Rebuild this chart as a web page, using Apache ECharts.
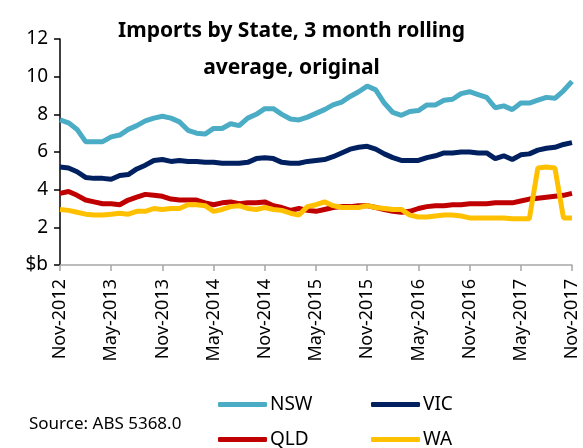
<!DOCTYPE html>
<html>
<head>
<meta charset="utf-8" />
<title>Imports by State</title>
<script type="text/javascript" src="https://cdn.jsdelivr.net/npm/echarts@6/dist/echarts.min.js"></script>
<style>
	* { margin: 0; padding: 0; }
	html, body { width: 583px; height: 448px; background: #fff; overflow: hidden; }
	#main { width: 583px; height: 448px; }
</style>
</head>
<body>
<div id="main"></div>
<script>
	// monthly, Nov-2012 .. Nov-2017
	var months = ['Nov', 'Dec', 'Jan', 'Feb', 'Mar', 'Apr', 'May', 'Jun', 'Jul', 'Aug', 'Sep', 'Oct'];
	var categories = [];
	for (var i = 0; i <= 60; i++) {
		var m = i % 12;
		var yr = 2012 + Math.floor((i + 10) / 12);
		categories.push(months[m] + '-' + yr);
	}

	var yTicks = [0, 2, 4, 6, 8, 10, 12];

	var nsw = [7.7, 7.55, 7.2, 6.55, 6.55, 6.55, 6.8, 6.9, 7.2, 7.4, 7.65, 7.8,
		7.9, 7.8, 7.6, 7.15, 7.0, 6.95, 7.25, 7.25, 7.5, 7.4, 7.8, 8.0,
		8.3, 8.3, 8.0, 7.75, 7.7, 7.85, 8.05, 8.25, 8.5, 8.65, 8.95, 9.2,
		9.5, 9.3, 8.6, 8.1, 7.95, 8.15, 8.2, 8.5, 8.5, 8.75, 8.8, 9.1,
		9.2, 9.05, 8.9, 8.35, 8.45, 8.25, 8.6, 8.6, 8.75, 8.9, 8.85, 9.25, 9.75];
	var vic = [5.2, 5.15, 4.95, 4.65, 4.6, 4.6, 4.55, 4.75, 4.8, 5.1, 5.3, 5.55,
		5.6, 5.5, 5.55, 5.5, 5.5, 5.45, 5.45, 5.4, 5.4, 5.4, 5.45, 5.65,
		5.7, 5.65, 5.45, 5.4, 5.4, 5.5, 5.55, 5.6, 5.75, 5.95, 6.15, 6.25,
		6.3, 6.15, 5.9, 5.7, 5.55, 5.55, 5.55, 5.7, 5.8, 5.95, 5.95, 6.0,
		6.0, 5.95, 5.95, 5.65, 5.8, 5.6, 5.85, 5.9, 6.1, 6.2, 6.25, 6.4, 6.5];
	var qld = [3.8, 3.9, 3.7, 3.45, 3.35, 3.25, 3.25, 3.2, 3.45, 3.6, 3.75, 3.7,
		3.65, 3.5, 3.45, 3.45, 3.45, 3.3, 3.2, 3.3, 3.35, 3.25, 3.3, 3.3,
		3.35, 3.15, 3.05, 2.9, 3.0, 2.9, 2.85, 2.95, 3.05, 3.1, 3.1, 3.15,
		3.15, 3.05, 2.95, 2.85, 2.8, 2.85, 3.0, 3.1, 3.15, 3.15, 3.2, 3.2,
		3.25, 3.25, 3.25, 3.3, 3.3, 3.3, 3.4, 3.5, 3.55, 3.6, 3.65, 3.7, 3.8];
	var wa = [2.95, 2.9, 2.8, 2.7, 2.65, 2.65, 2.7, 2.75, 2.7, 2.85, 2.85, 3.0,
		2.95, 3.0, 3.0, 3.2, 3.2, 3.15, 2.85, 2.95, 3.1, 3.15, 3.0, 2.95,
		3.05, 2.95, 2.9, 2.75, 2.65, 3.1, 3.2, 3.35, 3.15, 3.05, 3.05, 3.05,
		3.15, 3.05, 3.0, 2.95, 2.95, 2.65, 2.55, 2.55, 2.6, 2.65, 2.65, 2.6,
		2.5, 2.5, 2.5, 2.5, 2.5, 2.45, 2.45, 2.45, 5.15, 5.2, 5.15, 2.5, 2.5];

	var font = 'Noto Sans';

	function line(name, data, color) {
		return {
			name: name,
			type: 'line',
			data: data,
			symbol: 'none',
			lineStyle: { width: 5, color: color },
			itemStyle: { color: color }
		};
	}

	// one legend per entry so the two columns line up like the original
	function legendItem(name, left, top) {
		return {
			data: [name],
			left: left,
			top: top,
			padding: 0,
			itemWidth: 49,
			itemHeight: 5,
			itemGap: 0,
			icon: 'roundRect',
			textStyle: { fontFamily: font, fontSize: 19, color: '#000', padding: [0, 0, 0, -2] }
		};
	}

	var myChart = echarts.init(document.getElementById('main'));
	myChart.setOption({
		animation: false,
		title: {
			text: 'Imports by State, 3 month rolling\naverage, original',
			left: 'center',
			top: 8,
			textStyle: { fontFamily: font, fontSize: 21, fontWeight: 'bold', color: '#000', lineHeight: 37 }
		},
		graphic: [{
			type: 'text',
			left: 29,
			top: 416,
			style: { text: 'Source: ABS 5368.0', font: '17px "Noto Sans"', fill: '#000' }
		}],
		legend: [
			legendItem('NSW', 218, 395),
			legendItem('VIC', 371, 395),
			legendItem('QLD', 218, 430),
			legendItem('WA', 371, 430)
		],
		grid: { left: 60, right: 11, top: 39, bottom: 183 },
		xAxis: {
			type: 'category',
			data: categories,
			boundaryGap: false,
			axisLine: { lineStyle: { color: '#a6a6a6', width: 1.5 } },
			axisTick: { interval: 5, length: 6, lineStyle: { color: '#a6a6a6', width: 1.5 } },
			axisLabel: { interval: 5, rotate: 90, margin: 14, fontFamily: font, fontSize: 18, color: '#000' }
		},
		yAxis: {
			type: 'value',
			min: yTicks[0],
			max: yTicks[yTicks.length - 1],
			interval: 2,
			splitLine: { show: false },
			axisLine: { show: true, lineStyle: { color: '#000', width: 1.5 } },
			axisTick: { show: true, length: 6, lineStyle: { color: '#000', width: 1.5 } },
			axisLabel: {
				margin: 12, fontFamily: font, fontSize: 19, color: '#000',
				formatter: function (v) { return v === 0 ? '$b' : v; }
			}
		},
		series: [
			line('NSW', nsw, '#4bacc6'),
			line('VIC', vic, '#002060'),
			line('QLD', qld, '#c00000'),
			line('WA', wa, '#ffc000')
		]
	});
</script>
</body>
</html>
